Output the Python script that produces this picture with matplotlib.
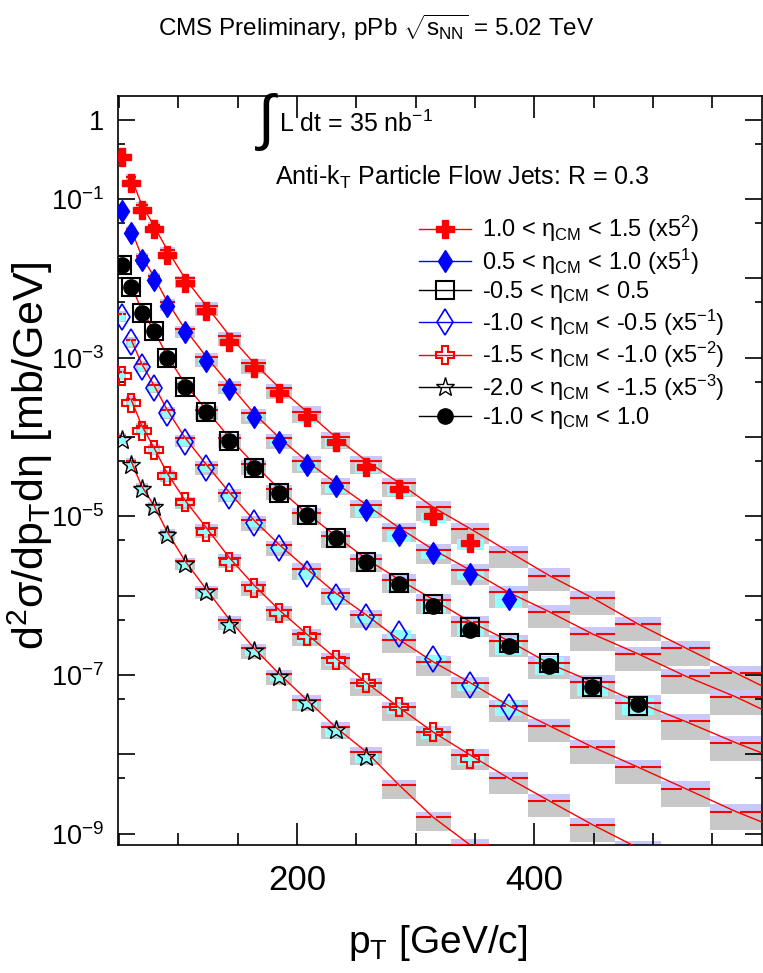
import math
import matplotlib
matplotlib.use('Agg')
import matplotlib.pyplot as plt
from matplotlib.lines import Line2D
from matplotlib.ticker import FixedLocator, MultipleLocator, LogLocator, NullFormatter, FuncFormatter

plt.rcParams['font.family'] = ['Liberation Sans', 'DejaVu Sans']
plt.rcParams['mathtext.fontset'] = 'custom'
plt.rcParams['mathtext.rm'] = 'Liberation Sans'
plt.rcParams['mathtext.it'] = 'Liberation Sans'
plt.rcParams['mathtext.sf'] = 'Liberation Sans'
plt.rcParams['mathtext.bf'] = 'Liberation Sans:bold'

# jet pT bins [GeV/c]
bin_edges = [49, 56, 64, 74, 84, 97, 114, 133, 153, 174, 196, 220, 245,
             272, 300, 330, 362, 395, 430, 468, 507, 548, 592]
bin_centers = [52.5, 60, 69, 79, 90.5, 105.5, 123.5, 143, 163.5, 185, 208,
               232.5, 258.5, 286, 315, 346, 378.5, 412.5, 449, 487.5, 527.5, 570]

# measured spectra (already scaled by 5^n)
eta_p10_p15 = [3.4e-1, 1.6e-1, 7.3e-2, 4.2e-2, 2.0e-2, 8.8e-3, 3.9e-3, 1.6e-3,
               7.5e-4, 3.6e-4, 1.8e-4, 8.7e-5, 4.2e-5, 2.2e-5, 1.0e-5, 4.6e-6]
eta_p05_p10 = [7.1e-2, 3.8e-2, 1.7e-2, 9.6e-3, 4.5e-3, 2.1e-3, 9.1e-4, 4.1e-4,
               1.8e-4, 8.7e-5, 4.5e-5, 2.4e-5, 1.2e-5, 5.8e-6, 3.5e-6, 1.9e-6, 9.1e-7]
eta_m05_p05 = [1.5e-2, 7.8e-3, 3.7e-3, 2.2e-3, 1.0e-3, 4.3e-4, 2.1e-4, 9.0e-5,
               4.1e-5, 2.0e-5, 1.04e-5, 5.4e-6, 2.7e-6, 1.45e-6, 7.9e-7, 4.0e-7,
               2.5e-7, 1.4e-7, 7.1e-8, 4.1e-8]
eta_m10_m05 = [3.3e-3, 1.6e-3, 7.7e-4, 4.2e-4, 2.0e-4, 8.7e-5, 4.1e-5, 1.8e-5,
               8.3e-6, 4.0e-6, 1.9e-6, 9.7e-7, 5.4e-7, 3.3e-7, 1.6e-7, 7.5e-8, 4.0e-8]
eta_m15_m10 = [5.9e-4, 2.7e-4, 1.2e-4, 6.9e-5, 3.2e-5, 1.5e-5, 6.4e-6, 2.7e-6,
               1.25e-6, 6.1e-7, 3.1e-7, 1.55e-7, 8.0e-8, 3.9e-8, 1.9e-8, 8.8e-9]
eta_m20_m15 = [9.2e-5, 4.5e-5, 2.2e-5, 1.3e-5, 5.8e-6, 2.5e-6, 1.1e-6, 4.3e-7,
               2.0e-7, 9.5e-8, 4.5e-8, 2.0e-8, 9.3e-9]
eta_m10_p10 = [1.5e-2, 7.8e-3, 3.7e-3, 2.2e-3, 1.0e-3, 4.3e-4, 2.1e-4, 9.0e-5,
               4.1e-5, 2.0e-5, 1.04e-5, 5.4e-6, 2.7e-6, 1.41e-6, 7.4e-7, 3.7e-7,
               2.3e-7, 1.3e-7, 7.1e-8, 4.3e-8]

# reference curves (value per bin), plus value at the right edge
ref_p10_p15 = [3.9e-1, 1.9e-1, 8.5e-2, 4.7e-2, 2.3e-2, 1.0e-2, 4.5e-3, 1.9e-3,
               8.6e-4, 4.2e-4, 2.1e-4, 1.0e-4, 5.0e-5, 2.65e-5, 1.3e-5, 7.0e-6,
               3.6e-6, 1.8e-6, 9.4e-7, 4.4e-7, 2.2e-7, 1.06e-7]
ref_p05_p10 = [8.0e-2, 4.2e-2, 1.9e-2, 1.08e-2, 5.1e-3, 2.3e-3, 1.03e-3, 4.6e-4,
               2.0e-4, 9.8e-5, 5.0e-5, 2.65e-5, 1.4e-5, 7.2e-6, 3.8e-6, 2.1e-6,
               1.1e-6, 6.3e-7, 3.3e-7, 1.85e-7, 9.7e-8, 5.3e-8]
ref_m05_p05 = [1.6e-2, 8.3e-3, 4.0e-3, 2.25e-3, 1.06e-3, 4.7e-4, 2.2e-4, 9.8e-5,
               4.6e-5, 2.2e-5, 1.1e-5, 5.7e-6, 2.9e-6, 1.6e-6, 8.9e-7, 4.7e-7,
               2.7e-7, 1.4e-7, 8.2e-8, 4.5e-8, 2.6e-8, 1.4e-8]
ref_m10_m05 = [3.6e-3, 1.7e-3, 8.4e-4, 4.6e-4, 2.2e-4, 9.8e-5, 4.5e-5, 2.0e-5,
               9.0e-6, 4.4e-6, 2.2e-6, 1.08e-6, 5.7e-7, 2.8e-7, 1.46e-7, 8.0e-8,
               4.1e-8, 2.3e-8, 1.24e-8, 6.9e-9, 3.7e-9, 1.9e-9]
ref_m15_m10 = [6.6e-4, 3.0e-4, 1.4e-4, 7.5e-5, 3.5e-5, 1.6e-5, 7.2e-6, 3.0e-6,
               1.37e-6, 6.6e-7, 3.3e-7, 1.64e-7, 8.0e-8, 3.9e-8, 1.9e-8, 9.8e-9,
               5.0e-9, 2.6e-9, 1.3e-9, 6.6e-10]
ref_m20_m15 = [1.04e-4, 5.0e-5, 2.4e-5, 1.4e-5, 6.4e-6, 2.75e-6, 1.2e-6, 5.0e-7,
               2.2e-7, 1.03e-7, 4.9e-8, 2.2e-8, 1.07e-8, 4.1e-9, 1.6e-9, 7.2e-10]
ref_edge = [7.3e-8, 3.7e-8, 1.04e-8, 1.4e-9, None, None]

# relative uncertainties per bin: wide (reference) band and data band
band_up = [0.09] * 6 + [0.12] * 4 + [0.16] * 4 + [0.19] * 3 + [0.23] * 5
band_dn = [0.21, 0.21, 0.21, 0.21, 0.23, 0.23, 0.25, 0.25, 0.27, 0.27, 0.29,
           0.29, 0.31, 0.33, 0.33, 0.35, 0.37, 0.37, 0.39, 0.39, 0.41, 0.41]
sys_up = [0.08] * 10 + [0.12] * 6 + [0.19] * 6
sys_dn = [0.12] * 10 + [0.17] * 6 + [0.23] * 6

labels = [r'1.0 < $\eta_{\rm CM}$ < 1.5 (x5$^{2}$)',
          r'0.5 < $\eta_{\rm CM}$ < 1.0 (x5$^{1}$)',
          r'-0.5 < $\eta_{\rm CM}$ < 0.5',
          r'-1.0 < $\eta_{\rm CM}$ < -0.5 (x5$^{-1}$)',
          r'-1.5 < $\eta_{\rm CM}$ < -1.0 (x5$^{-2}$)',
          r'-2.0 < $\eta_{\rm CM}$ < -1.5 (x5$^{-3}$)',
          r'-1.0 < $\eta_{\rm CM}$ < 1.0']

red = '#ff0000'
blue = '#0000ff'
gray = '#c8c8c8'
lavender = '#c8c8fa'
cyan = '#90ffff'

fig = plt.figure(figsize=(7.63, 9.73), dpi=100)
ax = fig.add_axes([118 / 763, 1 - 845 / 973, 644 / 763, 749 / 973])
ax.set_yscale('log')

refs = [ref_p10_p15, ref_p05_p10, ref_m05_p05, ref_m10_m05, ref_m15_m10, ref_m20_m15]
datas = [eta_p10_p15, eta_p05_p10, eta_m05_p05, eta_m10_m05, eta_m15_m10, eta_m20_m15, eta_m10_p10]

# reference bands, red reference dashes and fit lines
for ref, edge in zip(refs, ref_edge):
    n = len(ref)
    lo = bin_edges[:n]
    hi = bin_edges[1:n + 1]
    w = [b - a for a, b in zip(lo, hi)]
    ax.bar(lo, [r * d for r, d in zip(ref, band_dn[:n])], width=w,
           bottom=[r * (1 - d) for r, d in zip(ref, band_dn[:n])],
           align='edge', color=gray, lw=0, zorder=1)
    ax.bar(lo, [r * u for r, u in zip(ref, band_up[:n])], width=w, bottom=ref,
           align='edge', color=lavender, lw=0, zorder=1)
    gap = [0.07 * x for x in w]
    c = bin_centers[:n]
    ax.hlines(ref, lo, [a - g for a, g in zip(c, gap)], color=red, lw=1.5, zorder=3)
    ax.hlines(ref, [a + g for a, g in zip(c, gap)], hi, color=red, lw=1.5, zorder=3)
    fx = bin_centers[1:n]
    fy = ref[1:]
    if edge is not None:
        fx = fx + [bin_edges[-1]]
        fy = fy + [edge]
    ax.plot(fx, fy, color=red, lw=1, zorder=4)

# data systematic boxes
for d in datas:
    n = len(d)
    w = [0.7 * (b - a) for a, b in zip(bin_edges[:n], bin_edges[1:n + 1])]
    ax.bar(bin_centers[:n], [v * (u + dd) for v, u, dd in zip(d, sys_up, sys_dn)],
           width=w, bottom=[v * (1 - dd) for v, dd in zip(d, sys_dn)],
           color=cyan, lw=0, zorder=2)

styles = [
    dict(marker='P', ms=12.5, mfc=red, mec=red, color=red),
    dict(marker='d', ms=11.5, mfc=blue, mec=blue, color=blue),
    dict(marker='s', ms=12.5, mfc='none', mec='black', mew=1.5, color='black'),
    dict(marker='d', ms=13, mfc='none', mec=blue, mew=1.2, color=blue),
    dict(marker='P', ms=13, mfc='none', mec=red, mew=1.5, color=red),
    dict(marker='*', ms=14, mfc='none', mec='black', mew=1.0, color='black'),
    dict(marker='o', ms=11, mfc='black', mec='black', color='black'),
]

handles = []
for d, st in zip(datas, styles):
    ax.plot(bin_centers[:len(d)], d, ls='none', zorder=5, **st)
    handles.append(Line2D([], [], lw=1, **st))

ax.set_xlim(bin_edges[0], bin_edges[-1])
ax.set_ylim(7.2e-10, 2.0)

ax.xaxis.set_major_locator(FixedLocator([200, 400]))
ax.xaxis.set_minor_locator(MultipleLocator(50))
ax.yaxis.set_major_locator(FixedLocator([10.0 ** k for k in range(-9, 1)]))
ax.yaxis.set_minor_locator(LogLocator(base=10, subs=[5.0], numticks=20))
ax.yaxis.set_minor_formatter(NullFormatter())


def ylab(v, pos):
    k = int(round(math.log10(v)))
    if k == 0:
        return '1'
    if k % 2 == 0:
        return ''
    return r'$10^{%d}$' % k


ax.yaxis.set_major_formatter(FuncFormatter(ylab))
ax.tick_params(which='both', direction='in', top=True, right=True, width=1.2)
ax.tick_params(axis='y', which='major', length=12, labelsize=19.5, pad=10)
ax.tick_params(axis='y', which='minor', length=5)
ax.tick_params(axis='x', which='major', length=16, labelsize=25, pad=14)
ax.tick_params(axis='x', which='minor', length=8.5)
for s in ax.spines.values():
    s.set_linewidth(1.2)

fig.text(438 / 763, 1 - 943 / 973, r'p$_{\rm T}$ [GeV/c]', fontsize=28,
         ha='center', va='center')
fig.text(30 / 763, 1 - 456 / 973, r'd$^{2}\sigma$/dp$_{\rm T}$d$\eta$ [mb/GeV]',
         fontsize=31, rotation=90, ha='center', va='center')
fig.text(376 / 763, 1 - 28 / 973,
         r'CMS Preliminary, pPb $\sqrt{s_{\rm NN}}$ = 5.02 TeV', fontsize=17.5,
         ha='center', va='center')

ax.text((258 - 118) / 644, 1 - (122 - 96) / 749, '\u222b',
        transform=ax.transAxes, fontsize=44, ha='left', va='center')
ax.text((279 - 118) / 644, 1 - (124 - 96) / 749, r'L dt = 35 nb$^{-1}$',
        transform=ax.transAxes, fontsize=18, ha='left', va='center')
ax.text((275 - 118) / 644, 1 - (177 - 96) / 749,
        r'Anti-k$_{\rm T}$ Particle Flow Jets: R = 0.3',
        transform=ax.transAxes, fontsize=18, ha='left', va='center')

ax.legend(handles, labels, loc='upper left', bbox_to_anchor=((419 - 118) / 644, 1 - (214 - 96) / 749),
          frameon=False, fontsize=17, handlelength=2.2, handletextpad=0.45,
          labelspacing=0.1, borderaxespad=0, borderpad=0)

fig.savefig('out.png', dpi=100)
